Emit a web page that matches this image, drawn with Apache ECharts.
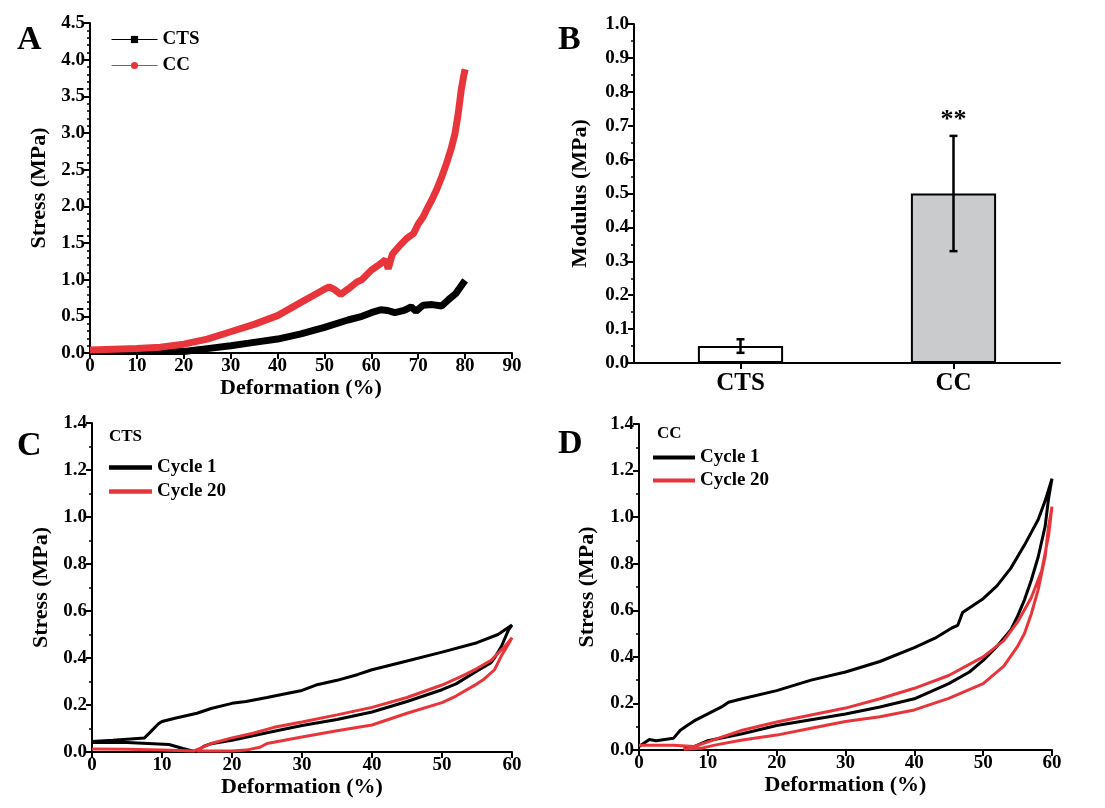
<!DOCTYPE html>
<html>
<head>
<meta charset="utf-8">
<script src="https://cdn.jsdelivr.net/npm/echarts@6/dist/echarts.min.js"></script>
<style>html,body{margin:0;padding:0;background:#fff}#c{width:1105px;height:808px}</style>
</head>
<body>
<div id="c"></div>
<script>
// ---------- DATA ----------
// Panel A: compressive stress-strain
const aCts = [[0,0.02],[5,0.02],[10,0.02],[15,0.02],[20,0.02],[25,0.06],[30,0.1],[35,0.145],[40,0.19],[45,0.26],[50,0.35],[55,0.45],[58,0.5],[60,0.55],[62,0.59],[63.5,0.58],[65,0.55],[67,0.58],[68.5,0.63],[69.5,0.57],[71,0.65],[73,0.66],[75,0.64],[76.5,0.73],[78,0.81],[79,0.9],[80,0.99]];
const aCc = [[0,0.04],[5,0.05],[10,0.06],[15,0.08],[20,0.12],[25,0.19],[30,0.29],[35,0.39],[40,0.51],[45,0.69],[50,0.87],[51,0.9],[52,0.87],[53.5,0.8],[55,0.87],[57,0.97],[58,1.0],[60,1.13],[62,1.22],[63,1.27],[63.6,1.15],[64.5,1.35],[66,1.46],[67.5,1.56],[69,1.63],[70,1.76],[71,1.85],[72,1.98],[73,2.1],[74,2.24],[75,2.4],[76,2.58],[77,2.78],[77.8,2.98],[78.5,3.25],[79.2,3.6],[79.7,3.78],[80,3.87]];
// Panel B: modulus bars
const bCategories = ['CTS','CC'];
const bModulus = [0.05, 0.5];
const bError = [0.02, 0.17];
const bSignif = ['', '**'];
// Panel C: CTS cyclic
const cCycle1 = [[0,0.045],[3,0.05],[7.5,0.06],[8.5,0.09],[9.5,0.12],[10,0.13],[12,0.145],[15,0.165],[17,0.185],[20,0.207],[22,0.215],[25,0.232],[28,0.25],[30,0.262],[32,0.285],[35,0.305],[38,0.33],[40,0.35],[45,0.387],[50,0.425],[55,0.465],[58,0.5],[60,0.54],[59.5,0.52],[58.5,0.45],[57.5,0.4],[57,0.38],[55,0.345],[52,0.29],[50,0.265],[45,0.215],[40,0.17],[35,0.138],[30,0.113],[25,0.082],[20,0.05],[17,0.035],[16,0.025],[15.3,0.01],[14.5,0.003],[13,0.015],[11,0.032],[8,0.036],[5,0.04],[0,0.04]];
const cCycle20 = [[0,0.013],[5,0.012],[10,0.008],[14.5,0.004],[15.5,0.016],[17,0.036],[20,0.06],[23,0.08],[26,0.105],[30,0.128],[35,0.158],[40,0.19],[45,0.232],[50,0.285],[53,0.325],[55,0.355],[57,0.39],[59,0.45],[60,0.486],[59.5,0.46],[58.5,0.41],[57.5,0.35],[56,0.31],[55,0.29],[52,0.238],[50,0.21],[45,0.165],[40,0.115],[35,0.09],[30,0.064],[25,0.036],[24,0.02],[22,0.008],[20,0.004],[15,0.004]];
// Panel D: CC cyclic
const dCycle1 = [[0,0.015],[1.5,0.045],[2.5,0.04],[5,0.05],[6,0.085],[7,0.105],[8,0.125],[10,0.155],[12,0.185],[13,0.205],[15,0.22],[20,0.255],[25,0.3],[30,0.335],[35,0.38],[40,0.44],[43,0.48],[45.5,0.525],[46.3,0.535],[47,0.59],[50,0.65],[52,0.705],[54,0.78],[56,0.88],[58,0.99],[59,1.07],[60,1.165],[59.5,1.08],[59,0.96],[58,0.83],[57,0.73],[56,0.645],[55,0.575],[54,0.515],[52,0.445],[50,0.385],[48,0.335],[45,0.285],[40,0.22],[35,0.185],[30,0.155],[25,0.13],[20,0.105],[15,0.07],[10,0.04],[8,0.015],[6.5,0.004]];
const dCycle20 = [[0,0.02],[5,0.02],[8,0.015],[10,0.035],[12,0.055],[15,0.085],[20,0.12],[25,0.15],[30,0.18],[35,0.22],[40,0.265],[45,0.32],[50,0.4],[53,0.47],[55,0.55],[57,0.655],[58.5,0.77],[59.5,0.92],[60,1.045],[59.5,0.96],[59,0.83],[58,0.69],[57,0.585],[56,0.5],[55,0.445],[53,0.36],[50,0.285],[45,0.222],[40,0.172],[35,0.143],[30,0.122],[25,0.093],[20,0.064],[15,0.043],[11,0.021],[9,0.007],[6.5,0.003]];

// ---------- STYLE ----------
const FONT = 'Liberation Serif';
const RED = '#e8353b';
const lbl = (size) => ({color:'#000', fontFamily:FONT, fontWeight:'bold', fontSize:size});
const axisLine = {show:true, onZero:false, lineStyle:{color:'#000', width:2}};
const axisTick = {show:true, inside:false, length:6, lineStyle:{color:'#000', width:2}};
const minorTick = (n) => ({show:true, splitNumber:n, length:3, lineStyle:{color:'#000', width:1.5}});
function valX(grid, max, interval) {
  return {type:'value', gridIndex:grid, min:0, max:max, interval:interval,
    name:'Deformation (%)', nameLocation:'middle', nameGap:23, nameTextStyle:lbl(22),
    axisLine:axisLine, axisTick:axisTick, splitLine:{show:false},
    axisLabel:Object.assign(lbl(19), {margin:4})};
}
function valY(grid, max, interval, name, minorN, gap) {
  return {type:'value', gridIndex:grid, min:0, max:max, interval:interval,
    name:name, nameLocation:'middle', nameGap:gap, nameTextStyle:lbl(22),
    axisLine:axisLine, axisTick:axisTick, minorTick:minorTick(minorN), splitLine:{show:false},
    axisLabel:Object.assign(lbl(19), {margin:5, formatter:(v)=>v.toFixed(1)})};
}

const chart = echarts.init(document.getElementById('c'), null, {renderer:'canvas'});
const option = {
  backgroundColor:'#fff',
  animation:false,
  title:[
    {text:'A', left:12, top:18, textStyle:lbl(34)},
    {text:'B', left:553, top:18, textStyle:lbl(34)},
    {text:'C', left:12, top:424, textStyle:lbl(34)},
    {text:'D', left:553, top:422, textStyle:lbl(34)},
    {text:'CTS', left:104, top:423, textStyle:lbl(17)},
    {text:'CC', left:652, top:420, textStyle:lbl(17)}
  ],
  legend:[
    {data:['CTS','CC'], orient:'vertical', left:106, top:25, itemWidth:46, itemHeight:9, itemGap:7,
     textStyle:lbl(19), lineStyle:{width:1}},
    {data:['Cycle 1','Cycle 20'], orient:'vertical', left:104, top:453, itemWidth:43, itemHeight:14, itemGap:5,
     textStyle:lbl(19), lineStyle:{width:5}, icon:'path://M0,0H10V1H0Z'},
    {data:['Cycle 1','Cycle 20'], orient:'vertical', left:648, top:443, itemWidth:42, itemHeight:14, itemGap:4,
     textStyle:lbl(19), lineStyle:{width:5}, icon:'path://M0,0H10V1H0Z'}
  ],
  grid:[
    {left:90, top:23, width:422, height:330},
    {left:634, top:24, width:426, height:339},
    {left:92, top:423, width:420, height:329},
    {left:639, top:424, width:413, height:326}
  ],
  xAxis:[
    valX(0, 90, 10),
    {type:'category', gridIndex:1, data:bCategories,
     axisLine:axisLine, axisTick:{show:true, alignWithLabel:true, length:6, lineStyle:{color:'#000', width:2}},
     axisLabel:Object.assign(lbl(25), {margin:8}), splitLine:{show:false}},
    valX(2, 60, 10),
    valX(3, 60, 10)
  ],
  yAxis:[
    valY(0, 4.5, 0.5, 'Stress (MPa)', 5, 40),
    valY(1, 1.0, 0.1, 'Modulus (MPa)', 2, 43),
    valY(2, 1.4, 0.2, 'Stress (MPa)', 2, 40),
    valY(3, 1.4, 0.2, 'Stress (MPa)', 2, 41)
  ],
  series:[
    {name:'CTS', type:'line', xAxisIndex:0, yAxisIndex:0, data:aCts, symbol:'rect', symbolSize:6,
     showSymbol:false, color:'#000', lineStyle:{width:7, color:'#000'}, itemStyle:{color:'#000'}, z:2},
    {name:'CC', type:'line', xAxisIndex:0, yAxisIndex:0, data:aCc, symbol:'circle', symbolSize:8,
     showSymbol:false, color:RED, lineStyle:{width:7, color:RED}, itemStyle:{color:RED}, z:3},
    {name:'Modulus', type:'bar', xAxisIndex:1, yAxisIndex:1, data:bModulus.map((v,i)=>({value:v, itemStyle:{color: i===0 ? '#ffffff' : '#c9cbcd'}})),
     barWidth:'40%', itemStyle:{borderColor:'#000', borderWidth:2}},
    {name:'err', type:'custom', xAxisIndex:1, yAxisIndex:1, z:5,
     data:bModulus.map((v,i)=>[i, v, bError[i]]),
     renderItem:function(params, api){
       const i = api.value(0), v = api.value(1), e = api.value(2);
       const sig = bSignif[i];
       const top = api.coord([i, v+e]), bot = api.coord([i, v-e]);
       const w = 4;
       const st = {stroke:'#000', lineWidth:2.5};
       const kids = [
         {type:'line', shape:{x1:top[0], y1:top[1], x2:bot[0], y2:bot[1]}, style:st},
         {type:'line', shape:{x1:top[0]-w, y1:top[1], x2:top[0]+w, y2:top[1]}, style:st},
         {type:'line', shape:{x1:bot[0]-w, y1:bot[1], x2:bot[0]+w, y2:bot[1]}, style:st}
       ];
       if (sig) {
         kids.push({type:'text', x:top[0], y:top[1]-3, style:{text:sig, fill:'#000', font:'bold 26px "Liberation Serif"', align:'center', verticalAlign:'bottom'}});
       }
       return {type:'group', children:kids};
     }},
    {name:'Cycle 1', type:'line', xAxisIndex:2, yAxisIndex:2, data:cCycle1, symbol:'none', color:'#000',
     lineStyle:{width:3, color:'#000'}, z:2},
    {name:'Cycle 20', type:'line', xAxisIndex:2, yAxisIndex:2, data:cCycle20, symbol:'none', color:RED,
     lineStyle:{width:3, color:RED}, z:3},
    {name:'Cycle 1', type:'line', xAxisIndex:3, yAxisIndex:3, data:dCycle1, symbol:'none', color:'#000',
     lineStyle:{width:3, color:'#000'}, z:2},
    {name:'Cycle 20', type:'line', xAxisIndex:3, yAxisIndex:3, data:dCycle20, symbol:'none', color:RED,
     lineStyle:{width:3, color:RED}, z:3}
  ]
};
chart.setOption(option);
</script>
</body>
</html>
